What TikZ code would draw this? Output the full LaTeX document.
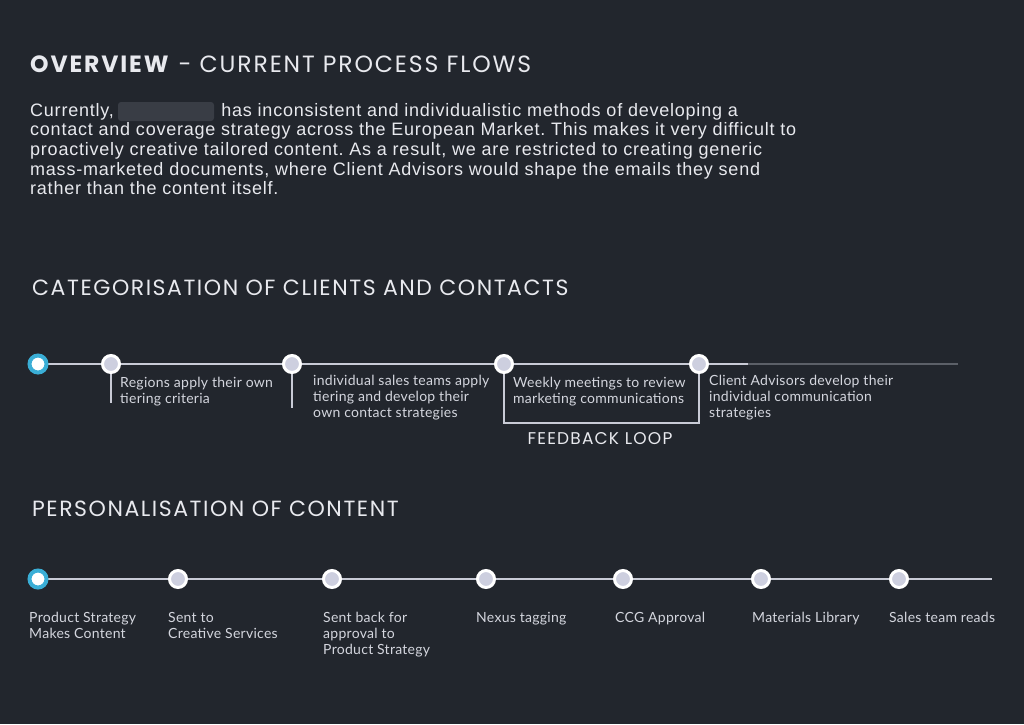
\documentclass[tikz,border=0pt]{standalone}
\usepackage{fontspec}
\setmainfont{Lato}[LetterSpace=2]
\newfontfamily\headfont{Poppins}[LetterSpace=7]
\newfontfamily\titlefont{Poppins}[LetterSpace=8]
\newfontfamily\parafont{Liberation Sans}[LetterSpace=4.3]
\definecolor{bg}{HTML}{22262D}
\definecolor{txt}{HTML}{E8E9EE}
\definecolor{lbl}{HTML}{D4D6DE}
\definecolor{rail}{HTML}{C9CBD6}
\definecolor{raildim}{HTML}{5C6068}
\definecolor{dotfill}{HTML}{CDCFDF}
\definecolor{cyanring}{HTML}{3AAED6}
\definecolor{blurbox}{HTML}{393D45}
\frenchspacing
\begin{document}
\begin{tikzpicture}[x=1pt,y=-1pt,
  dot/.style={circle,draw=white,line width=3pt,fill=dotfill,minimum size=17pt,inner sep=0pt},
  startdot/.style={circle,draw=cyanring,line width=4pt,fill=white,minimum size=17pt,inner sep=0pt},
  railline/.style={draw=rail,line width=2pt},
  tick/.style={draw=rail,line width=1.4pt},
  label/.style={anchor=north west,align=left,text=lbl,inner sep=0pt,font=\fontsize{14}{16}\selectfont},
  head/.style={anchor=west,inner sep=0pt,text=txt,font=\headfont\fontsize{22}{26}\selectfont}]
\fill[bg] (0,0) rectangle (1024,724);
% title
\node[head,anchor=west,font=\titlefont\fontsize{23.5}{27}\selectfont] (title) at (30,64) {\textbf{OVERVIEW}\ {- CURRENT PROCESS FLOWS}};
% blurred name placeholder
\fill[blurbox,rounded corners=3pt] (118,102) rectangle (214,121);
\node[anchor=north west,align=left,inner sep=0pt,text=txt,font=\parafont\fontsize{18}{19.6}\selectfont] (para) at (30,103)
 {Currently, \hspace{96pt} has inconsistent and individualistic methods of developing a\\
  contact and coverage strategy across the European Market. This makes it very difficult to\\
  proactively creative tailored content. As a result, we are restricted to creating generic\\
  mass-marketed documents, where Client Advisors would shape the emails they send\\
  rather than the content itself.};
% section 1
\node[head] (h1) at (32,288) {CATEGORISATION OF CLIENTS AND CONTACTS};
\coordinate (r1s) at (38,364);
\coordinate (r1m) at (748,364);
\coordinate (r1e) at (958,364);
\draw[draw=raildim,line width=2pt] (r1m) -- (r1e);
\draw[railline] (r1s) -- (r1m);
\node[dot] (a2) at (111,364) {};
\node[dot] (a3) at (292,364) {};
\node[dot] (a4) at (504,364) {};
\node[dot] (a5) at (699,364) {};
\coordinate (t2) at (111,403);
\coordinate (t3) at (292,408);
\coordinate (fbl) at (504,423);
\coordinate (fbr) at (699,423);
\draw[tick] (a2) -- (t2);
\draw[tick] (a3) -- (t3);
\draw[tick] (a4) -- (fbl) -- (fbr) -- (a5);
\node[startdot] (a1) at (38,364) {};
\node[label] (l2) at (120,377) {Regions apply their own\\tiering criteria};
\node[label] (l3) at (313,375) {individual sales teams apply\\tiering and develop their\\own contact strategies};
\node[label] (l4) at (513,377) {Weekly meetings to review\\marketing communications};
\node[label] (l5) at (709,375) {Client Advisors develop their\\individual communication\\strategies};
\node[anchor=center,inner sep=0pt,text=txt,font=\headfont\fontsize{17}{20}\selectfont] (fb) at (600,439) {FEEDBACK LOOP};
% section 2
\node[head] (h2) at (32,509) {PERSONALISATION OF CONTENT};
\coordinate (r2s) at (38,579);
\coordinate (r2e) at (992,579);
\draw[railline] (r2s) -- (r2e);
\node[startdot] (b1) at (38,579) {};
\node[dot] (b2) at (178,579) {};
\node[dot] (b3) at (332,579) {};
\node[dot] (b4) at (486,579) {};
\node[dot] (b5) at (623,579) {};
\node[dot] (b6) at (761,579) {};
\node[dot] (b7) at (899,579) {};
\node[label] (m1) at (29,612) {Product Strategy\\Makes Content};
\node[label] (m2) at (168,612) {Sent to\\Creative Services};
\node[label] (m3) at (323,612) {Sent back for\\approval to\\Product Strategy};
\node[label] (m4) at (476,612) {Nexus tagging};
\node[label] (m5) at (615,612) {CCG Approval};
\node[label] (m6) at (752,612) {Materials Library};
\node[label] (m7) at (889,612) {Sales team reads};
\end{tikzpicture}
\end{document}
